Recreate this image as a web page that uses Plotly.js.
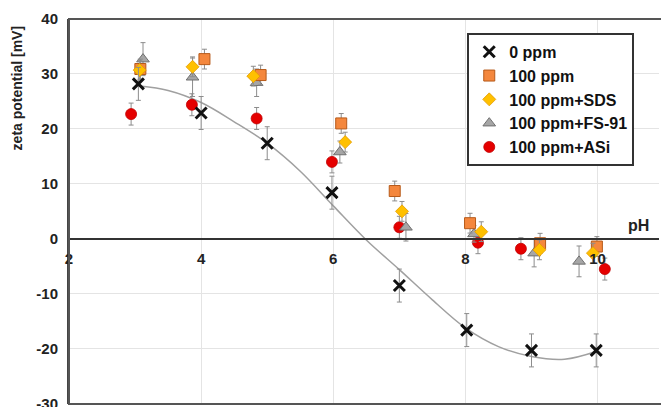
<!DOCTYPE html>
<html><head><meta charset="utf-8">
<script src="https://cdn.plot.ly/plotly-3.0.1.min.js"></script>
<style>html,body{margin:0;padding:0;background:#fff}#chart{width:661px;height:407px}</style>
</head><body><div id="chart"></div>
<script>
// 0 ppm
const ph0 = [3.05, 4.0, 5.0, 5.98, 7.0, 8.02, 9.0, 9.98];
const zeta0 = [28.2, 22.9, 17.4, 8.4, -8.5, -16.6, -20.3, -20.3];
const err0 = [3, 3, 3, 3, 3, 3, 3, 3];
// 100 ppm
const ph100 = [3.08, 4.05, 4.9, 6.12, 6.93, 8.07, 9.13, 9.99];
const zeta100 = [30.9, 32.7, 29.8, 21.0, 8.7, 2.85, -0.8, -1.4];
const err100 = [1.8, 1.8, 1.8, 1.8, 1.8, 1.8, 1.8, 1.8];
// 100 ppm + SDS
const phSDS = [3.07, 3.87, 4.79, 6.18, 7.04, 8.24, 9.12, 9.93];
const zetaSDS = [30.7, 31.3, 29.6, 17.6, 5.0, 1.3, -2.0, -2.6];
const errSDS = [1.8, 1.8, 1.8, 1.8, 1.8, 1.8, 1.8, 1.8];
// 100 ppm + FS-91
const phFS = [3.12, 3.87, 4.84, 6.1, 7.1, 8.13, 9.04, 9.72];
const zetaFS = [32.7, 29.4, 28.4, 15.8, 2.1, 0.9, -2.6, -4.1];
const errFS = [3, 3.5, 2.5, 2, 2.5, 1.5, 2.5, 2.8];
// 100 ppm + ASi
const phASi = [2.94, 3.86, 4.84, 5.98, 7.0, 8.19, 8.84, 10.11];
const zetaASi = [22.7, 24.4, 21.9, 14.0, 2.1, -0.7, -1.8, -5.5];
const errASi = [2, 2, 2, 2, 2, 2, 2, 2];
// trend line of 0 ppm
const trendPh = [3.07, 3.5, 4.0, 4.5, 5.0, 5.5, 6.0, 6.5, 7.0, 7.5, 8.0, 8.5, 9.0, 9.5, 10.0];
const trendZeta = [27.8, 27.0, 24.8, 21.3, 17.4, 12.3, 6.0, -0.2, -5.6, -11.1, -16.2, -19.6, -21.4, -21.9, -20.4];
const xTicks = [2, 4, 6, 8, 10];
const yTicks = [-30, -20, -10, 0, 10, 20, 30, 40];
const yTickText = ['-30', '-20', '-10', '0', '10', '20', '30', '40'];

const F = 'Arial, "Liberation Sans", sans-serif';
const eb = (a) => ({type:'data', array:a, visible:true, color:'#8c8c8c', thickness:1, width:2.5});

const traces = [
  {x:trendPh, y:trendZeta, mode:'lines', line:{color:'#a0a0a0', width:1.5, shape:'spline'}, showlegend:false, hoverinfo:'skip'},
  {x:phASi, y:zetaASi, error_y:eb(errASi), mode:'markers', name:'100 ppm+ASi', legendrank:5,
   marker:{symbol:'circle', size:11, color:'#e50000', line:{color:'#c00000', width:0.8}}},
  {x:phFS, y:zetaFS, error_y:eb(errFS), mode:'markers', name:'100 ppm+FS-91', legendrank:4,
   marker:{symbol:'triangle-up', size:11, color:'#a6a6a6', line:{color:'#707070', width:1}}},
  {x:ph100, y:zeta100, error_y:eb(err100), mode:'markers', name:'100 ppm', legendrank:2,
   marker:{symbol:'square', size:11, color:'#f4873d', line:{color:'#b65a1a', width:1}}},
  {x:phSDS, y:zetaSDS, error_y:eb(errSDS), mode:'markers', name:'100 ppm+SDS', legendrank:3,
   marker:{symbol:'diamond', size:10, color:'#ffc000', line:{color:'#e39b00', width:0.8}}},
  {x:ph0, y:zeta0, error_y:eb(err0), mode:'markers', name:'0 ppm', legendrank:1,
   marker:{symbol:'x-thin', size:11, color:'#111', line:{color:'#111', width:3}}}
];

const layout = {
  width:661, height:407,
  margin:{l:69, r:2, t:19, b:3},
  paper_bgcolor:'#fff', plot_bgcolor:'#fff',
  font:{family:F, color:'#222'},
  showlegend:true,
  legend:{x:0.675, y:0.964, xanchor:'left', yanchor:'top', bgcolor:'#fff',
    bordercolor:'#333', borderwidth:2, font:{family:F, size:16, weight:'bold', color:'#111'},
    traceorder:'normal', itemwidth:30},
  xaxis:{range:[2, 10.93], tickvals:xTicks, ticktext:xTicks.map(String), showgrid:true, gridcolor:'#e4e4e4',
    zeroline:false, showline:true, linecolor:'#333', linewidth:2, anchor:'free', position:30/70,
    ticks:'', ticklabelstandoff:6, tickfont:{family:F, size:15, weight:'bold', color:'#222'}},
  yaxis:{range:[-30.05, 40], tickvals:yTicks, ticktext:yTickText, showgrid:true, gridcolor:'#e4e4e4', zeroline:false,
    showline:true, linecolor:'#444', linewidth:2, ticks:'', ticklabelstandoff:6, ticklabeloverflow:'allow',
    tickfont:{family:F, size:15, weight:'bold', color:'#222'}},
  shapes:[{type:'rect', xref:'paper', yref:'paper', x0:0, x1:1.02, y0:0, y1:1, line:{color:'#555', width:2}, layer:'above'}],
  annotations:[
    {text:'pH', xref:'paper', yref:'y', x:0.965, y:0.6, yanchor:'bottom', xanchor:'center', showarrow:false,
     font:{family:F, size:16, weight:'bold', color:'#222'}},
    {text:'zeta potential [mV]', xref:'paper', yref:'paper', x:-0.088, y:0.82, xanchor:'center', yanchor:'middle',
     textangle:-90, showarrow:false, font:{family:F, size:14, weight:'bold', color:'#222'}}
  ]
};
Plotly.newPlot('chart', traces, layout, {displayModeBar:false, staticPlot:true});
</script></body></html>
